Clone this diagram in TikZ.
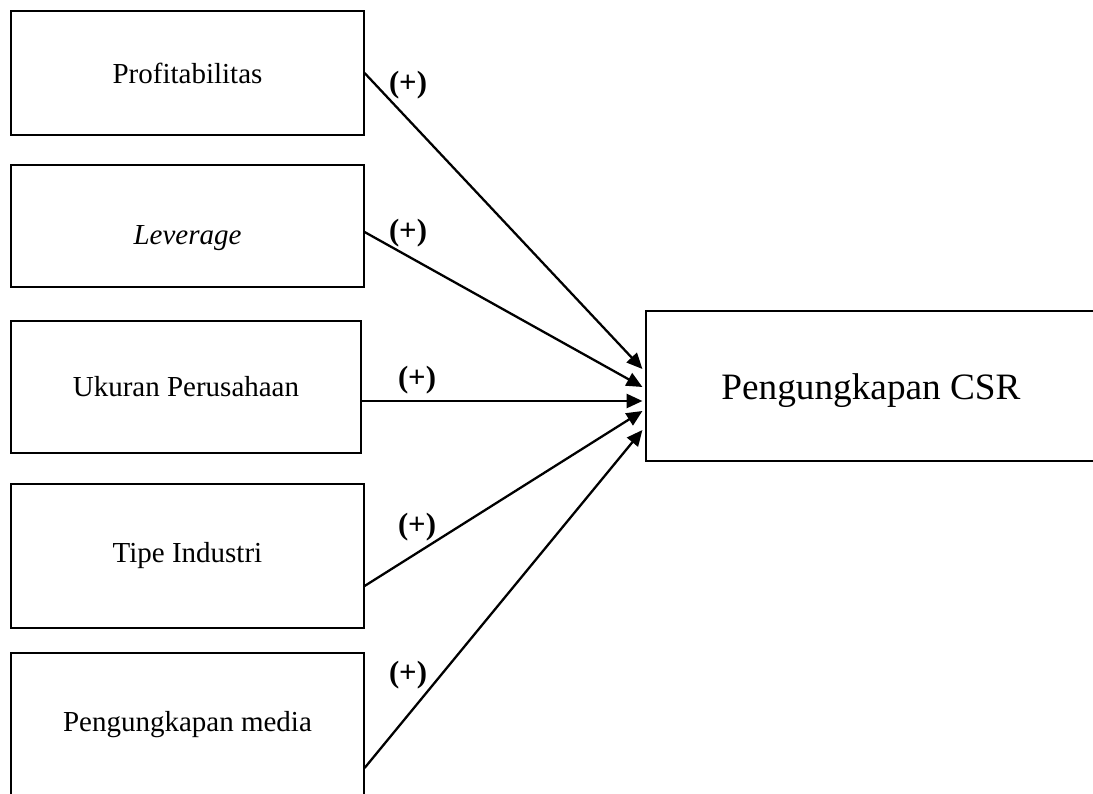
\documentclass[tikz,border=0pt]{standalone}
\usepackage{fontspec}
\setmainfont{Liberation Serif}
\usetikzlibrary{arrows.meta, calc}

\tikzset{
  varbox/.style={draw, line width=0.7pt, font=\fontsize{16.5}{20}\selectfont},
  normaltext/.style={},
  lowtext/.style={text height=0.88cm},
  csrbox/.style={draw, line width=0.7pt, minimum width=9cm, minimum height=3cm, text height=0.71cm, font=\fontsize{21.2}{25}\selectfont},
  arr/.style={line width=1.3pt, -{Triangle[length=9pt,width=8pt]}},
  sign/.style={font=\bfseries\fontsize{17.5}{21}\selectfont, inner sep=0pt}
}

\begin{document}
\begin{tikzpicture}[x=0.02cm, y=-0.02cm]
  \useasboundingbox (0,0) rectangle (1093,794);
  % independent variables
  \foreach \nm/\xc/\yc/\bw/\bh/\opt/\txt in {
    prof/187.5/73/7.06cm/2.48cm/normaltext/Profitabilitas,
    lev/187.5/226/7.06cm/2.44cm/lowtext/\textit{Leverage},
    ukuran/186/387/7cm/2.64cm/normaltext/Ukuran Perusahaan,
    tipe/187.5/556/7.06cm/2.88cm/normaltext/Tipe Industri,
    media/187.5/724.5/7.06cm/2.86cm/normaltext/Pengungkapan media}
    \node[varbox, minimum width=\bw, minimum height=\bh, \opt] (\nm) at (\xc,\yc) {\txt};
  % dependent variable
  \node[csrbox] (csr) at (871,386) {Pengungkapan CSR};
  % paths with signs
  \foreach \src/\sy/\ey/\lx/\ly in {
    prof/0/-17/408/85,
    lev/6/1/408/233,
    ukuran/14/15/417/380,
    tipe/30/25/417/527,
    media/43.5/44/408/675}
  {
    \draw[arr] ($(\src.east)+(0,\sy)$) -- ($(csr.west)+(-3,\ey)$);
    \node[sign] (s\src) at (\lx,\ly) {(+)};
  }
\end{tikzpicture}
\end{document}
